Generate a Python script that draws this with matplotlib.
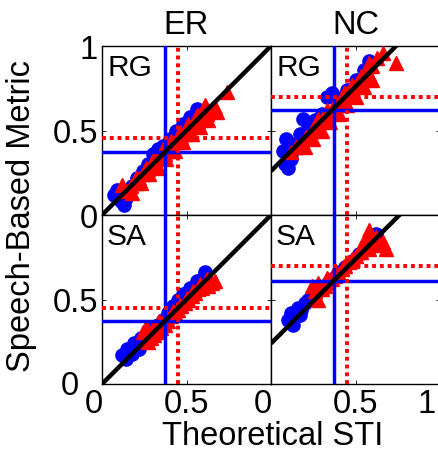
import numpy as np
import matplotlib.pyplot as plt
from matplotlib.transforms import ScaledTranslation

plt.rcParams['font.family'] = ['Liberation Sans', 'DejaVu Sans']

# column / row names
cols = ['ER', 'NC']
rows = ['RG', 'SA']

# ER - RG
er_rg_blue_x = [0.07, 0.09, 0.11, 0.13, 0.15, 0.18, 0.21, 0.24, 0.27, 0.30, 0.33, 0.36, 0.40, 0.44, 0.48, 0.52, 0.56, 0.10, 0.14]
er_rg_blue_y = [0.12, 0.15, 0.08, 0.06, 0.13, 0.17, 0.22, 0.26, 0.30, 0.36, 0.39, 0.41, 0.45, 0.50, 0.54, 0.58, 0.63, 0.11, 0.10]
er_rg_red_x = [0.12, 0.15, 0.17, 0.20, 0.22, 0.25, 0.27, 0.30, 0.32, 0.35, 0.37, 0.40, 0.42, 0.45, 0.47, 0.50, 0.52, 0.55, 0.57, 0.60, 0.62, 0.65, 0.67, 0.74,
               0.18, 0.23, 0.28, 0.33, 0.38, 0.43, 0.48, 0.53, 0.58, 0.63, 0.68,
               0.20, 0.26, 0.31, 0.36, 0.41, 0.46, 0.51, 0.56, 0.61]
er_rg_red_y = [0.18, 0.14, 0.17, 0.19, 0.22, 0.24, 0.27, 0.29, 0.31, 0.34, 0.36, 0.38, 0.41, 0.43, 0.46, 0.48, 0.50, 0.53, 0.55, 0.57, 0.60, 0.62, 0.64, 0.73,
               0.13, 0.19, 0.24, 0.28, 0.33, 0.38, 0.43, 0.48, 0.52, 0.56, 0.61,
               0.22, 0.28, 0.34, 0.39, 0.44, 0.49, 0.54, 0.59, 0.65]

# NC - RG
nc_rg_blue_x = [0.07, 0.08, 0.10, 0.12, 0.14, 0.17, 0.19, 0.22, 0.26, 0.30, 0.33, 0.36, 0.40, 0.45, 0.50, 0.55, 0.58, 0.09, 0.12]
nc_rg_blue_y = [0.38, 0.30, 0.28, 0.33, 0.42, 0.48, 0.57, 0.53, 0.56, 0.60, 0.70, 0.72, 0.69, 0.74, 0.80, 0.86, 0.91, 0.45, 0.36]
nc_rg_red_x = [0.12, 0.15, 0.18, 0.21, 0.24, 0.27, 0.30, 0.33, 0.36, 0.39, 0.42, 0.45, 0.48, 0.51, 0.54, 0.57, 0.60, 0.63, 0.66, 0.74,
               0.20, 0.25, 0.30, 0.35, 0.40, 0.45, 0.50, 0.55, 0.60,
               0.28, 0.33, 0.38, 0.43, 0.48, 0.53, 0.58]
nc_rg_red_y = [0.37, 0.40, 0.42, 0.46, 0.50, 0.53, 0.56, 0.59, 0.62, 0.65, 0.68, 0.71, 0.74, 0.78, 0.81, 0.84, 0.88, 0.93, 0.96, 0.90,
               0.40, 0.45, 0.50, 0.55, 0.60, 0.65, 0.70, 0.76, 0.80,
               0.57, 0.62, 0.66, 0.72, 0.77, 0.82, 0.90]

# ER - SA
er_sa_blue_x = [0.12, 0.14, 0.16, 0.18, 0.20, 0.22, 0.24, 0.26, 0.28, 0.30, 0.33, 0.36, 0.39, 0.42, 0.45, 0.48, 0.52, 0.56, 0.60, 0.61, 0.15, 0.19, 0.23]
er_sa_blue_y = [0.17, 0.15, 0.19, 0.18, 0.22, 0.21, 0.25, 0.28, 0.30, 0.33, 0.35, 0.38, 0.42, 0.46, 0.50, 0.53, 0.57, 0.61, 0.63, 0.66, 0.21, 0.24, 0.27]
er_sa_red_x = [0.27, 0.29, 0.31, 0.33, 0.35, 0.37, 0.39, 0.41, 0.43, 0.45, 0.47, 0.49, 0.51, 0.53, 0.55, 0.57, 0.59, 0.61, 0.63, 0.65, 0.67,
               0.30, 0.34, 0.38, 0.42, 0.46, 0.50, 0.54, 0.58, 0.62, 0.24, 0.26]
er_sa_red_y = [0.25, 0.27, 0.29, 0.31, 0.33, 0.35, 0.37, 0.40, 0.42, 0.44, 0.46, 0.48, 0.50, 0.52, 0.54, 0.56, 0.57, 0.59, 0.58, 0.60, 0.61,
               0.33, 0.37, 0.40, 0.43, 0.47, 0.51, 0.55, 0.59, 0.62, 0.31, 0.34]

# NC - SA
nc_sa_blue_x = [0.10, 0.12, 0.14, 0.16, 0.18, 0.20, 0.22, 0.25, 0.28, 0.31, 0.34, 0.37, 0.40, 0.44, 0.48, 0.52, 0.56, 0.60, 0.62, 0.13, 0.17]
nc_sa_blue_y = [0.38, 0.42, 0.40, 0.45, 0.44, 0.48, 0.50, 0.52, 0.55, 0.57, 0.60, 0.63, 0.66, 0.69, 0.73, 0.77, 0.82, 0.86, 0.89, 0.35, 0.41]
nc_sa_red_x = [0.24, 0.26, 0.28, 0.30, 0.32, 0.34, 0.36, 0.38, 0.40, 0.42, 0.44, 0.46, 0.48, 0.50, 0.52, 0.54, 0.56, 0.58, 0.60, 0.62, 0.64, 0.66, 0.68,
               0.28, 0.33, 0.38, 0.43, 0.48, 0.53, 0.58]
nc_sa_red_y = [0.58, 0.55, 0.50, 0.56, 0.58, 0.60, 0.62, 0.64, 0.65, 0.68, 0.70, 0.72, 0.74, 0.76, 0.78, 0.82, 0.86, 0.91, 0.84, 0.87, 0.82, 0.84, 0.80,
               0.60, 0.63, 0.67, 0.70, 0.73, 0.78, 0.80]

# reference lines: (blue x, red x, blue y, red y)
ref_er_rg = (0.37, 0.45, 0.37, 0.455)
ref_nc_rg = (0.37, 0.45, 0.62, 0.70)
ref_er_sa = (0.37, 0.45, 0.37, 0.45)
ref_nc_sa = (0.37, 0.45, 0.61, 0.70)

# diagonal offsets (row RG, row SA)
diag_off = {'ER': [0.0, 0.0], 'NC': [0.26, 0.24]}

panels = {
    ('RG', 'ER'): (er_rg_blue_x, er_rg_blue_y, er_rg_red_x, er_rg_red_y, ref_er_rg),
    ('RG', 'NC'): (nc_rg_blue_x, nc_rg_blue_y, nc_rg_red_x, nc_rg_red_y, ref_nc_rg),
    ('SA', 'ER'): (er_sa_blue_x, er_sa_blue_y, er_sa_red_x, er_sa_red_y, ref_er_sa),
    ('SA', 'NC'): (nc_sa_blue_x, nc_sa_blue_y, nc_sa_red_x, nc_sa_red_y, ref_nc_sa),
}

fig = plt.figure(figsize=(4.38, 4.56), dpi=100)

W, H = 438.0, 456.0
x0s = [102, 271]
y_tops = [47, 216]
size = 169
fs = 23.5


def shift(lab, dx, dy=0):
    # move a tick label by some pixels
    lab.set_transform(lab.get_transform() + ScaledTranslation(dx / 100, dy / 100, fig.dpi_scale_trans))


for i, r in enumerate(rows):
    for j, c in enumerate(cols):
        ax = fig.add_axes([x0s[j] / W, 1 - (y_tops[i] + size) / H, size / W, size / H])
        bx, by, rx, ry, ref = panels[(r, c)]
        ax.plot(bx, by, 'o', color='blue', ms=9.5, mec='blue', zorder=2)
        ax.plot(rx, ry, '^', color='red', ms=9.5, mec='red', zorder=3)
        off = diag_off[c][i]
        ax.plot([0, 1], [off, 1 + off], color='black', lw=3.2, zorder=5, solid_capstyle='butt')
        ax.axvline(ref[0], color='blue', lw=2.5, zorder=4)
        ax.axhline(ref[2], color='blue', lw=2.5, zorder=4)
        ax.axvline(ref[1], color='red', lw=2.8, ls=(0, (1, 1)), zorder=4)
        ax.axhline(ref[3], color='red', lw=2.8, ls=(0, (1, 1)), zorder=4)
        ax.set_xlim(0, 1)
        ax.set_ylim(0, 1)
        ax.set_xticks([0, 0.5, 1])
        ax.set_yticks([0, 0.5, 1])
        ax.tick_params(direction='in', length=3, width=0.6, top=True, right=True,
                       labelsize=fs, pad=3)
        for sp in ax.spines.values():
            sp.set_linewidth(1.0)
        ax.text(0.03, 0.96, r, transform=ax.transAxes, fontsize=21.5, va='top', ha='left', zorder=6)
        if i == 0:
            ax.set_title(c, fontsize=fs, pad=9)
            ax.set_xticklabels([])
        else:
            if j == 0:
                ax.set_xticklabels(['0', '0.5', ''])
            else:
                ax.set_xticklabels(['0', '0.5', '1'])
            labs = ax.get_xticklabels()
            shift(labs[0], -8)
            shift(labs[2], -13)
        if j == 0:
            if i == 0:
                ax.set_yticklabels(['0', '0.5', '1'])
            else:
                ax.set_yticklabels(['0', '0.5', ''])
                shift(ax.get_yticklabels()[0], -19, 2)
        else:
            ax.set_yticklabels([])

fig.text(273 / W, 1 - 437 / H, 'Theoretical STI', fontsize=fs, ha='center', va='center')
fig.text(22 / W, 1 - 216 / H, 'Speech-Based Metric', fontsize=fs, ha='center', va='center', rotation=90)

fig.savefig('out.png', dpi=100)
